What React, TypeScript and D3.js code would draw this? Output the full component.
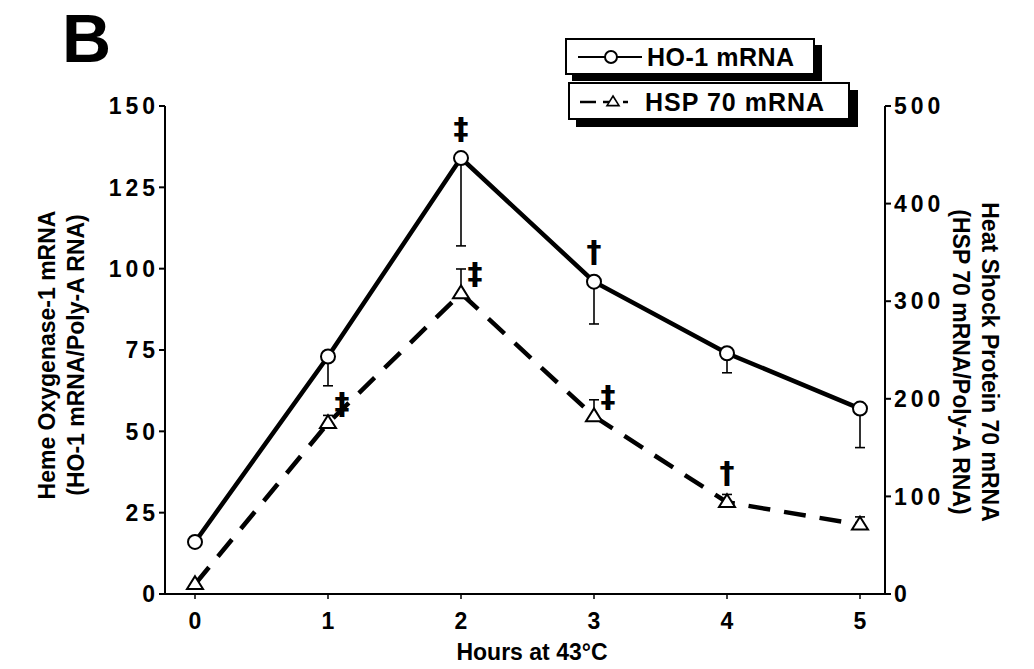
import React from 'react';
import * as d3 from 'd3';

const HOURS = [0, 1, 2, 3, 4, 5];
const HO1_MEAN = [16, 73, 134, 96, 74, 57];
const HO1_ERR = [0, 9, 27, 13, 6, 12]; // drawn below the mean
const HSP_MEAN = [10, 175, 308, 182, 94, 71];
const HSP_ERR = [0, 8, 25, 17, 8, 8]; // drawn above the mean
const LEFT_TICKS = [0, 25, 50, 75, 100, 125, 150];
const RIGHT_TICKS = [0, 100, 200, 300, 400, 500];
const MARKS = [
  { series: 'ho1', hour: 2, sym: '\u2021', side: 'above' },
  { series: 'ho1', hour: 3, sym: '\u2020', side: 'above' },
  { series: 'hsp', hour: 1, sym: '\u2021', side: 'right' },
  { series: 'hsp', hour: 2, sym: '\u2021', side: 'right' },
  { series: 'hsp', hour: 3, sym: '\u2021', side: 'right' },
  { series: 'hsp', hour: 4, sym: '\u2020', side: 'above' },
];

const W = 1034;
const H = 669;
const AX_L = 165;
const AX_R = 885;
const BOTTOM = 594;
const TOP = 106;
const FONT = 'Liberation Sans, Arial, sans-serif';
const NARROW = 'Liberation Sans Narrow, Liberation Sans, Arial, sans-serif';

const x = d3.scaleLinear().domain([0, 5]).range([195, 860]);
const yL = d3.scaleLinear().domain([0, 150]).range([BOTTOM, TOP]);
const yR = d3.scaleLinear().domain([0, 500]).range([BOTTOM, TOP]);

const tri = (cx: number, cy: number, s = 8) =>
  `M${cx},${cy - s}L${cx + s},${cy + s * 0.6}L${cx - s},${cy + s * 0.6}Z`;

export default function App() {
  const ho1 = d3.line<number>().x((_, i) => x(HOURS[i])).y(d => yL(d))(HO1_MEAN);
  const hsp = d3.line<number>().x((_, i) => x(HOURS[i])).y(d => yR(d))(HSP_MEAN);

  return (
    <svg width={W} height={H} style={{ position: 'absolute', left: 0, top: 0, background: '#fff' }}>
      <text x={62} y={62} fontFamily="Liberation Sans, Arial" fontWeight="bold" fontSize={68}>B</text>

      {/* left axis */}
      <line x1={AX_L} x2={AX_L} y1={TOP} y2={BOTTOM} stroke="#000" strokeWidth={2} />
      {LEFT_TICKS.map(t => (
        <g key={'l' + t}>
          <line x1={AX_L - 6} x2={AX_L} y1={yL(t)} y2={yL(t)} stroke="#000" strokeWidth={2} />
          <text x={AX_L - 6} y={yL(t)} dy="0.36em" textAnchor="end" fontFamily={FONT}
            fontWeight="bold" fontSize={23} letterSpacing={4}>{t}</text>
        </g>
      ))}

      {/* right axis */}
      <line x1={AX_R} x2={AX_R} y1={TOP} y2={BOTTOM} stroke="#000" strokeWidth={2} />
      {RIGHT_TICKS.map(t => (
        <g key={'r' + t}>
          <line x1={AX_R} x2={AX_R + 6} y1={yR(t)} y2={yR(t)} stroke="#000" strokeWidth={2} />
          <text x={AX_R + 9} y={yR(t)} dy="0.36em" fontFamily={FONT}
            fontWeight="bold" fontSize={23} letterSpacing={4}>{t}</text>
        </g>
      ))}

      {/* bottom axis */}
      <line x1={AX_L} x2={AX_R} y1={BOTTOM} y2={BOTTOM} stroke="#000" strokeWidth={2} />
      {HOURS.map(h => (
        <g key={'x' + h}>
          <line x1={x(h)} x2={x(h)} y1={BOTTOM} y2={BOTTOM + 5} stroke="#000" strokeWidth={1.5} />
          <text x={x(h)} y={BOTTOM + 35} textAnchor="middle" fontFamily={NARROW}
            fontWeight="bold" fontSize={23}>{h}</text>
        </g>
      ))}
      <text x={532} y={660} textAnchor="middle" fontFamily={NARROW} fontWeight="bold" fontSize={23}>
        Hours at 43°C
      </text>

      {/* axis titles */}
      <g transform="translate(55,355) rotate(-90)" fontFamily={FONT} fontWeight="bold" fontSize={23}>
        <text textAnchor="middle">Heme Oxygenase-1 mRNA</text>
        <text y={29} textAnchor="middle">(HO-1 mRNA/Poly-A RNA)</text>
      </g>
      <g transform="translate(982,362) rotate(90)" fontFamily={FONT} fontWeight="bold" fontSize={23}>
        <text textAnchor="middle">Heat Shock Protein 70 mRNA</text>
        <text y={29} textAnchor="middle">(HSP 70 mRNA/Poly-A RNA)</text>
      </g>

      {/* error bars */}
      {HO1_MEAN.map((m, i) => HO1_ERR[i] > 0 && (
        <g key={'eh' + i} stroke="#000" strokeWidth={1.6}>
          <line x1={x(HOURS[i])} x2={x(HOURS[i])} y1={yL(m)} y2={yL(m - HO1_ERR[i])} />
          <line x1={x(HOURS[i]) - 5} x2={x(HOURS[i]) + 5} y1={yL(m - HO1_ERR[i])} y2={yL(m - HO1_ERR[i])} />
        </g>
      ))}
      {HSP_MEAN.map((m, i) => HSP_ERR[i] > 0 && (
        <g key={'es' + i} stroke="#000" strokeWidth={1.6}>
          <line x1={x(HOURS[i])} x2={x(HOURS[i])} y1={yR(m)} y2={yR(m + HSP_ERR[i])} />
          <line x1={x(HOURS[i]) - 5} x2={x(HOURS[i]) + 5} y1={yR(m + HSP_ERR[i])} y2={yR(m + HSP_ERR[i])} />
        </g>
      ))}

      {/* series lines */}
      <path d={ho1 || ''} fill="none" stroke="#000" strokeWidth={4.5} />
      <path d={hsp || ''} fill="none" stroke="#000" strokeWidth={4.5} strokeDasharray="22 14" />

      {/* markers */}
      {HO1_MEAN.map((m, i) => (
        <circle key={'c' + i} cx={x(HOURS[i])} cy={yL(m)} r={7} fill="#fff" stroke="#000" strokeWidth={2} />
      ))}
      {HSP_MEAN.map((m, i) => (
        <path key={'t' + i} d={tri(x(HOURS[i]), yR(m))} fill="#fff" stroke="#000" strokeWidth={2} />
      ))}

      {/* significance marks */}
      {MARKS.map((mk, i) => {
        const idx = HOURS.indexOf(mk.hour);
        const cx = x(mk.hour);
        const cy = mk.series === 'ho1' ? yL(HO1_MEAN[idx]) : yR(HSP_MEAN[idx]);
        const px = mk.side === 'right' ? cx + 14 : cx;
        const py = mk.side === 'right' ? cy - 20 : cy - 30;
        return (
          <text key={'m' + i} x={px} y={py} dy="0.35em" textAnchor="middle"
            fontFamily="DejaVu Sans, sans-serif" fontWeight="bold" fontSize={30}>{mk.sym}</text>
        );
      })}

      {/* legend */}
      <g>
        <rect x={572} y={45} width={250} height={36} fill="#000" />
        <rect x={566} y={39} width={248} height={35} fill="#fff" stroke="#000" strokeWidth={2} />
        <line x1={578} x2={642} y1={57} y2={57} stroke="#000" strokeWidth={2} />
        <circle cx={611} cy={57} r={6} fill="#fff" stroke="#000" strokeWidth={2} />
        <text x={647} y={66} fontFamily={FONT} fontWeight="bold" fontSize={25} letterSpacing={0.5}>HO-1  mRNA</text>

        <rect x={576} y={90} width={282} height={37} fill="#000" />
        <rect x={569} y={83} width={280} height={36} fill="#fff" stroke="#000" strokeWidth={2} />
        <line x1={580} x2={643} y1={102} y2={102} stroke="#000" strokeWidth={2.5} strokeDasharray="16 7 6 14 5 40" />
        <path d={tri(613, 102, 6)} fill="#fff" stroke="#000" strokeWidth={1.6} />
        <text x={645} y={111} fontFamily={FONT} fontWeight="bold" fontSize={25} letterSpacing={1}>HSP 70 mRNA</text>
      </g>
    </svg>
  );
}
